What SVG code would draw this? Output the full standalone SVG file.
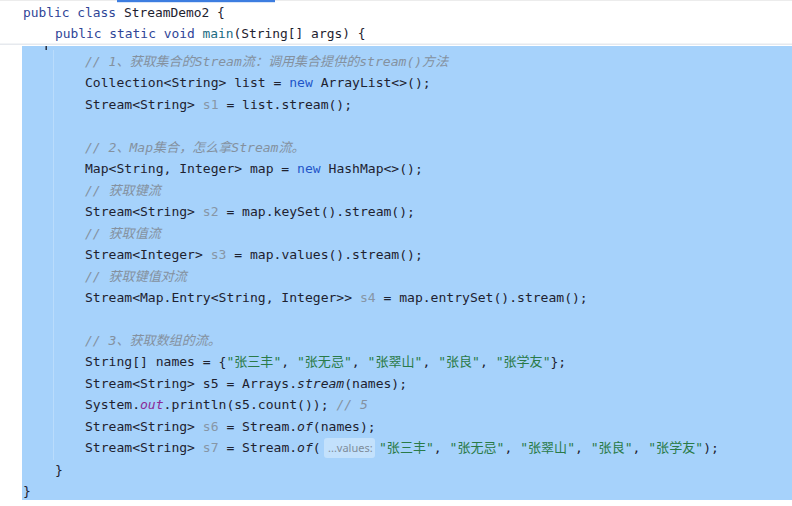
<svg xmlns="http://www.w3.org/2000/svg" width="792" height="506" viewBox="0 0 792 506">
<style>
text{font-family:"DejaVu Sans Mono","Noto Sans CJK SC",monospace;font-size:12.9px;fill:#1e2230;white-space:pre}
#code text{font-size:13.05px}
.kw{fill:#2f4597}
.nw{fill:#1f56c9}
.fn{fill:#1a6b82}
.cm{fill:#84919f;font-style:italic}
.un{fill:#8796a6}
.st{fill:#2a7a48}
.fld{fill:#8a2b98;font-style:italic}
.it{font-style:italic}
#code text.hint{font-family:"Noto Sans","Liberation Sans",sans-serif;font-size:11px;fill:#7f8c9a}
</style>
<rect width="792" height="506" fill="#ffffff"/>
<rect x="0" y="0" width="792" height="1" fill="#ececec"/>
<rect x="117" y="0" width="158" height="2.2" fill="#3d7de0"/>
<g id="sticky-header">
<text x="23" y="17"><tspan class="kw">public class</tspan> StreamDemo2 {</text>
<text x="55" y="38"><tspan class="kw">public static void</tspan> <tspan class="fn">main</tspan>(String[] args) {</text>
</g>
<rect x="0" y="43.5" width="792" height="1.5" fill="#e6e9ee"/>
<rect id="selection" x="22" y="46" width="770" height="454" fill="#a6d2fb"/>
<rect x="53" y="50" width="1" height="410" fill="#b9dcfc"/>
<rect x="45.5" y="46" width="1.4" height="4" fill="#1e2230"/>
<g id="code">
<text x="85" y="66" class="cm">// 1、获取集合的Stream流：调用集合提供的stream()方法</text>
<text x="85" y="87.45">Collection&lt;String&gt; list = <tspan class="nw">new</tspan> ArrayList&lt;&gt;();</text>
<text x="85" y="108.9">Stream&lt;String&gt; <tspan class="un">s1</tspan> = list.stream();</text>
<text x="85" y="151.8" class="cm">// 2、Map集合，怎么拿Stream流。</text>
<text x="85" y="173.25">Map&lt;String, Integer&gt; map = <tspan class="nw">new</tspan> HashMap&lt;&gt;();</text>
<text x="85" y="194.7" class="cm">// 获取键流</text>
<text x="85" y="216.15">Stream&lt;String&gt; <tspan class="un">s2</tspan> = map.keySet().stream();</text>
<text x="85" y="237.6" class="cm">// 获取值流</text>
<text x="85" y="259.05">Stream&lt;Integer&gt; <tspan class="un">s3</tspan> = map.values().stream();</text>
<text x="85" y="280.5" class="cm">// 获取键值对流</text>
<text x="85" y="301.95">Stream&lt;Map.Entry&lt;String, Integer&gt;&gt; <tspan class="un">s4</tspan> = map.entrySet().stream();</text>
<text x="85" y="344.85" class="cm">// 3、获取数组的流。</text>
<text x="85" y="366.3">String[] names = {<tspan class="st">"张三丰"</tspan>, <tspan class="st">"张无忌"</tspan>, <tspan class="st">"张翠山"</tspan>, <tspan class="st">"张良"</tspan>, <tspan class="st">"张学友"</tspan>};</text>
<text x="85" y="387.75">Stream&lt;String&gt; s5 = Arrays.<tspan class="it">stream</tspan>(names);</text>
<text x="85" y="409.2">System.<tspan class="fld">out</tspan>.println(s5.count()); <tspan class="cm">// 5</tspan></text>
<text x="85" y="430.65">Stream&lt;String&gt; <tspan class="un">s6</tspan> = Stream.<tspan class="it">of</tspan>(names);</text>
<text x="85" y="452.1">Stream&lt;String&gt; <tspan class="un">s7</tspan> = Stream.<tspan class="it">of</tspan>(</text>
<rect x="324" y="438" width="51" height="20" rx="3" fill="#c3e1fc"/>
<text x="328" y="451.5" class="hint">...values:</text>
<text x="379" y="452.1"><tspan class="st">"张三丰"</tspan>, <tspan class="st">"张无忌"</tspan>, <tspan class="st">"张翠山"</tspan>, <tspan class="st">"张良"</tspan>, <tspan class="st">"张学友"</tspan>);</text>
<text x="55" y="473.55">}</text>
<text x="23" y="495">}</text>
</g>
</svg>
